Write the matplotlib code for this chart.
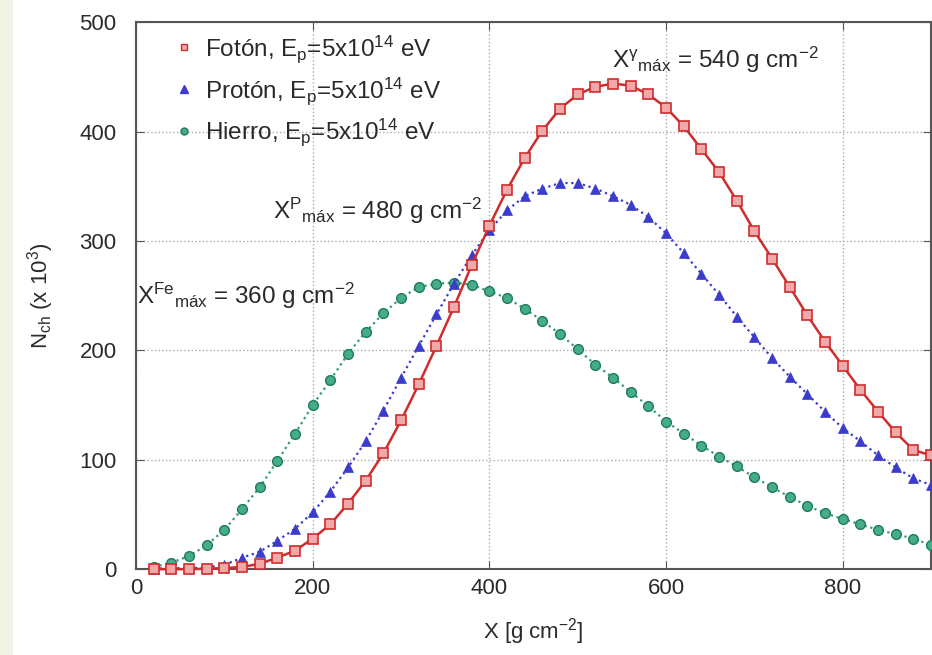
import numpy as np
import matplotlib
matplotlib.use("Agg")
import matplotlib.pyplot as plt
from matplotlib.lines import Line2D
from matplotlib.patches import Rectangle

plt.rcParams["font.family"] = ["Liberation Sans", "DejaVu Sans"]
plt.rcParams["mathtext.fontset"] = "custom"
plt.rcParams["mathtext.rm"] = "Liberation Sans"
plt.rcParams["mathtext.it"] = "Liberation Sans"
plt.rcParams["mathtext.default"] = "regular"

# Slant depth X [g cm^-2]
depth = np.arange(20, 901, 20)

# Number of charged particles (x 10^3)
foton = [0, 0, 0, 0.5, 1, 2, 5, 10.5, 17, 28, 41, 60, 81, 106, 136, 169, 204,
         240, 278, 314, 347, 376, 401, 421, 434, 441, 444, 442, 434, 422, 405,
         384, 363, 337, 309, 284, 258, 232, 208, 186, 164, 144, 125, 109, 104]
proton = [0.5, 1, 1, 1.5, 4, 10.5, 16, 26, 37, 52, 71, 93, 117, 145, 175, 204,
          233, 261, 287, 310, 328, 341, 348, 353, 353, 348, 341, 333, 322, 307,
          289, 270, 251, 231, 212, 193, 176, 160, 144, 129, 117, 104, 93, 83, 77]
hierro = [2, 6, 12, 22, 36, 55, 75, 99, 124, 150, 173, 197, 217, 234, 248, 258,
          261, 262, 260, 254, 248, 238, 227, 215, 201, 187, 175, 162, 149, 135,
          124, 113, 103, 94, 84, 75, 66, 58, 51, 46, 41, 36, 32, 28, 22]

red = "#cf2d2d"
blue = "#3b3bcc"
green = "#2f9a78"
txt = "#2a2a2a"

fig = plt.figure(figsize=(9.32, 6.55), dpi=100)
fig.patches.append(Rectangle((0, 0), 12 / 932, 1, transform=fig.transFigure,
                             color="#f2f2e4", zorder=-1))
ax = fig.add_axes([0.146, 0.131, 0.853, 0.835])

ax.plot(depth, hierro, ":", color=green, lw=1.6, marker="o", ms=7,
        mfc="#45ad8c", mec="#1f7a5e", mew=1.0, clip_on=False, zorder=3)
ax.plot(depth, proton, ":", color=blue, lw=1.6, marker="^", ms=7.5,
        mfc=blue, mec=blue, mew=0.5, clip_on=False, zorder=4)
ax.plot(depth, foton, "-", color=red, lw=1.8, marker="s", ms=7.5,
        mfc="#f0a8a8", mec=red, mew=1.2, clip_on=False, zorder=5)

ax.set_xlim(0, 900)
ax.set_ylim(0, 500)
ax.set_xticks([0, 200, 400, 600, 800])
ax.set_yticks([0, 100, 200, 300, 400, 500])
ax.grid(True, linestyle=":", color="#aaaaaa", lw=1.0)
ax.tick_params(axis="both", which="both", direction="in", top=True, right=True,
               length=6, labelsize=16, colors="#555555", labelcolor=txt)
ax.tick_params(axis="x", pad=6)
ax.tick_params(axis="y", pad=14)
for s in ax.spines.values():
    s.set_color("#555555")
    s.set_linewidth(1.5)

ax.set_xlabel(r"X [g cm$^{-2}$]", fontsize=16, color=txt, labelpad=13)
ax.set_ylabel(r"N$_{ch}$ (x 10$^{3}$)", fontsize=16, color=txt, labelpad=17)

ax.text(539, 466, r"X$^{\gamma}$$_{máx}$ = 540 g cm$^{-2}$", fontsize=17.5,
        color=txt, va="center")
ax.text(155, 328, r"X$^{P}$$_{máx}$ = 480 g cm$^{-2}$", fontsize=17.5,
        color=txt, va="center")
ax.text(1, 250, r"X$^{Fe}$$_{máx}$ = 360 g cm$^{-2}$", fontsize=17.5,
        color=txt, va="center")

handles = [
    Line2D([], [], ls="none", marker="s", ms=5, mfc="#f0a8a8", mec=red, mew=1.0),
    Line2D([], [], ls="none", marker="^", ms=5.5, mfc=blue, mec=blue),
    Line2D([], [], ls="none", marker="o", ms=5, mfc="#45ad8c", mec="#1f7a5e"),
]
labels = [r"Fotón, E$_{p}$=5x10$^{14}$ eV",
          r"Protón, E$_{p}$=5x10$^{14}$ eV",
          r"Hierro, E$_{p}$=5x10$^{14}$ eV"]
leg = ax.legend(handles, labels, loc="upper left", frameon=False, fontsize=17.5,
                labelspacing=0.42, handletextpad=0.25, handlelength=1.2,
                borderaxespad=0.05, bbox_to_anchor=(0.028, 1.0), labelcolor=txt)

fig.savefig("out.png", dpi=100, facecolor="white")
